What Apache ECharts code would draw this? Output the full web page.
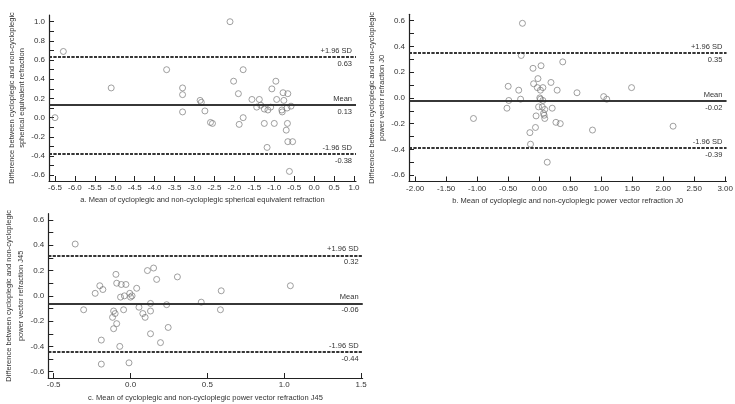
<!DOCTYPE html>
<html>
<head>
<meta charset="utf-8">
<script src="https://cdn.jsdelivr.net/npm/echarts@6/dist/echarts.min.js"></script>
<style>
html,body{margin:0;padding:0;background:#fff;}
#chart{width:735px;height:404px;}
</style>
</head>
<body>
<div id="chart"></div>
<script>
// ---------- Data ----------
const aX = [-6.5,-6.29,-5.09,-3.70,-3.30,-3.30,-3.30,-2.86,-2.83,-2.74,-2.60,-2.55,-2.11,-1.78,-2.02,-0.96,-1.90,-1.06,-0.78,-0.66,-1.56,-1.375,-0.94,-0.76,-1.34,-1.44,-1.25,-1.16,-1.09,-0.81,-0.80,-0.68,-0.58,-1.78,-1.88,-1.25,-1.00,-0.67,-0.70,-0.66,-0.54,-1.18,-0.62];
const aY = [0.00,0.69,0.31,0.50,0.31,0.24,0.06,0.18,0.16,0.07,-0.05,-0.06,1.00,0.50,0.38,0.38,0.25,0.30,0.26,0.25,0.19,0.19,0.19,0.18,0.13,0.11,0.09,0.08,0.11,0.08,0.06,0.10,0.12,0.00,-0.07,-0.06,-0.06,-0.06,-0.13,-0.25,-0.25,-0.31,-0.56];

const bX = [-0.27,-0.29,0.38,-0.10,0.03,-0.02,-0.09,0.19,-0.50,-0.03,0.06,0.02,-0.33,0.29,0.61,-0.49,-0.30,0.01,0.02,0.06,-0.52,-0.01,0.05,0.09,0.21,-1.06,-0.05,0.07,0.08,0.09,0.27,0.34,-0.06,-0.15,-0.14,0.13,1.04,1.09,1.49,0.86,2.16];
const bY = [0.58,0.33,0.28,0.23,0.25,0.15,0.11,0.12,0.09,0.08,0.08,0.06,0.06,0.06,0.04,-0.02,-0.01,0.00,-0.01,-0.02,-0.08,-0.07,-0.07,-0.09,-0.08,-0.16,-0.14,-0.12,-0.135,-0.16,-0.19,-0.20,-0.23,-0.27,-0.36,-0.50,0.01,-0.01,0.08,-0.25,-0.22];

const cX = [-0.36,-0.305,-0.23,-0.20,-0.18,-0.19,-0.19,-0.095,-0.09,-0.06,-0.03,-0.065,-0.04,-0.11,-0.10,-0.117,-0.045,-0.09,-0.11,-0.07,-0.01,-0.005,0.00,0.01,0.04,0.055,0.08,0.095,0.11,0.15,0.17,0.13,0.13,0.13,0.195,0.235,0.245,0.305,0.46,0.59,0.585,1.04];
const cY = [0.41,-0.11,0.02,0.08,0.05,-0.35,-0.54,0.17,0.10,0.09,0.09,-0.01,0.00,-0.12,-0.14,-0.17,-0.11,-0.22,-0.26,-0.40,-0.53,0.02,-0.01,0.00,0.06,-0.09,-0.14,-0.17,0.20,0.22,0.13,-0.06,-0.12,-0.30,-0.37,-0.07,-0.25,0.15,-0.05,0.04,-0.11,0.08];

// limits of agreement: upper, mean, lower
const limA = [0.63, 0.13, -0.38];
const limB = [0.35, -0.02, -0.39];
const limC = [0.32, -0.06, -0.44];
const limitNames = ['+1.96 SD', 'Mean', '-1.96 SD'];

// tick labels
const aXTicks = [-6.5,-6.0,-5.5,-5.0,-4.5,-4.0,-3.5,-3.0,-2.5,-2.0,-1.5,-1.0,-0.5,0.0,0.5,1.0];
const bXTicks = [-2.0,-1.5,-1.0,-0.5,0.0,0.5,1.0,1.5,2.0,2.5,3.0];
const cXTicks = [-0.5,0.0,0.5,1.0,1.5];
const aYLabels = [-0.6,-0.4,-0.2,0.0,0.2,0.4,0.6,0.8,1.0];
const aYTicks = [-0.6,-0.5,-0.4,-0.3,-0.2,-0.1,0.0,0.1,0.2,0.3,0.4,0.5,0.6,0.7,0.8,0.9,1.0];
const bcYLabels = [-0.6,-0.4,-0.2,0.0,0.2,0.4,0.6];
const bcYTicks = [-0.6,-0.5,-0.4,-0.3,-0.2,-0.1,0.0,0.1,0.2,0.3,0.4,0.5,0.6];

const xNames = [
  'a. Mean of cycloplegic and non-cycloplegic spherical equivalent refraction',
  'b. Mean of cycloplegic and non-cycloplegic power vector refraction J0',
  'c. Mean of cycloplegic and non-cycloplegic power vector refraction J45'
];
const yNames = [
  'Difference between cycloplegic and non-cycloplegic\nspherical equivalent refraction',
  'Difference between cycloplegic and non-cycloplegic\npower vector refraction J0',
  'Difference between cycloplegic and non-cycloplegic\npower vector refraction J45'
];

// ---------- Styling / building ----------
const FONT = '"Liberation Sans", Arial, sans-serif';
const TXT = '#333';
const AX = '#222';
const FS = 7.5;

function pairs(xs, ys){ return xs.map((x,i)=>[x, ys[i]]); }

function markLines(lims){
  const d = [];
  lims.forEach((v,i)=>{
    const ls = {color:'#2a2a2a', width:1.6, type: i===1 ? 'solid' : [3,1.5]};
    d.push({yAxis:v, lineStyle:ls, label:{show:true, position:'insideEndTop', distance:[4,2], formatter:limitNames[i], color:TXT, fontSize:FS, fontFamily:FONT}});
    d.push({yAxis:v, lineStyle:ls, label:{show:true, position:'insideEndBottom', distance:[4,3], formatter:v.toFixed(2), color:TXT, fontSize:FS, fontFamily:FONT}});
  });
  return {silent:true, symbol:['none','none'], animation:false, data:d};
}

function xAxis(idx, min, max, ticks, dec, name, gap){
  return {
    type:'value', gridIndex:idx, min:min, max:max,
    name:name, nameLocation:'middle', nameGap:gap,
    nameTextStyle:{color:TXT, fontSize:FS, fontFamily:FONT},
    axisLine:{show:true, onZero:false, lineStyle:{color:AX, width:1.2}},
    axisTick:{show:true, inside:true, length:5, customValues:ticks, lineStyle:{color:AX, width:1}},
    axisLabel:{show:true, customValues:ticks, margin:3, color:TXT, fontSize:8, fontFamily:FONT,
               formatter:(v)=>Number(v).toFixed(dec)},
    splitLine:{show:false}
  };
}
function yAxis(idx, min, max, ticks, labels, name, gap, lh){
  return {
    type:'value', gridIndex:idx, min:min, max:max,
    name:name, nameLocation:'middle', nameGap:gap, nameRotate:90,
    nameTextStyle:{color:TXT, fontSize:FS, fontFamily:FONT, lineHeight:lh, align:'center'},
    axisLine:{show:true, onZero:false, lineStyle:{color:AX, width:1.2}},
    axisTick:{show:true, inside:true, length:5, customValues:ticks, lineStyle:{color:AX, width:1}},
    axisLabel:{show:true, customValues:labels, margin:4, color:TXT, fontSize:8, fontFamily:FONT,
               formatter:(v)=>Number(v).toFixed(1)},
    splitLine:{show:false}
  };
}
function scatter(idx, data, lims){
  return {
    type:'scatter', xAxisIndex:idx, yAxisIndex:idx, data:data,
    symbol:'circle', symbolSize:6,
    itemStyle:{color:'rgba(255,255,255,0)', borderColor:'#7a7a7a', borderWidth:0.9},
    markLine: markLines(lims),
    animation:false
  };
}

const option = {
  backgroundColor:'#fff',
  animation:false,
  grid:[
    {left:49, top:15, width:307, height:166, outerBoundsMode:'none', containLabel:false},
    {left:409, top:14.3, width:317.4, height:167.2, outerBoundsMode:'none', containLabel:false},
    {left:48.3, top:213.7, width:314.3, height:164.3, outerBoundsMode:'none', containLabel:false}
  ],
  xAxis:[
    xAxis(0, -6.65, 1.05, aXTicks, 1, xNames[0], 15),
    xAxis(1, -2.1, 3.02, bXTicks, 2, xNames[1], 15),
    xAxis(2, -0.535, 1.51, cXTicks, 1, xNames[2], 16)
  ],
  yAxis:[
    yAxis(0, -0.66, 1.07, aYTicks, aYLabels, yNames[0], 21, 10),
    yAxis(1, -0.65, 0.65, bcYTicks, bcYLabels, yNames[1], 18, 10),
    yAxis(2, -0.65, 0.65, bcYTicks, bcYLabels, yNames[2], 11, 12)
  ],
  series:[
    scatter(0, pairs(aX,aY), limA),
    scatter(1, pairs(bX,bY), limB),
    scatter(2, pairs(cX,cY), limC)
  ]
};

const chart = echarts.init(document.getElementById('chart'), null, {renderer:'canvas'});
chart.setOption(option);
</script>
</body>
</html>
